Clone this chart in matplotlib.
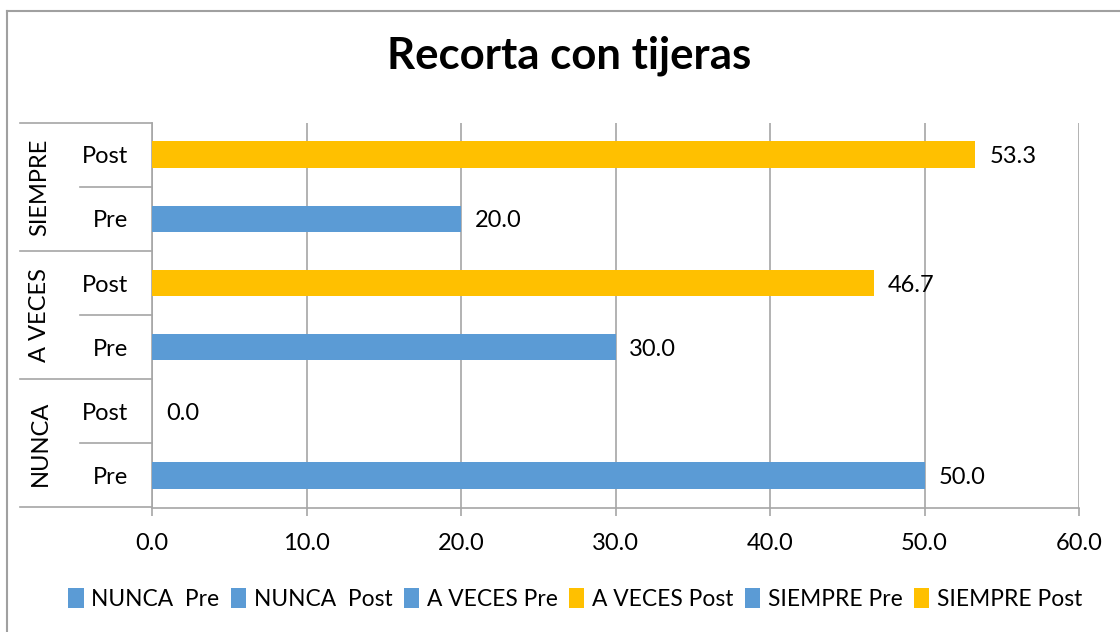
import matplotlib
matplotlib.use("Agg")
import matplotlib.pyplot as plt
from matplotlib.lines import Line2D

plt.rcParams['font.family'] = ['Lato', 'DejaVu Sans']

# ---- data ----
title = "Recorta con tijeras"
groups = ["NUNCA", "A VECES", "SIEMPRE"]
phases = ["Pre", "Post"]
series_labels = ["NUNCA  Pre", "NUNCA  Post", "A VECES Pre",
                 "A VECES Post", "SIEMPRE Pre", "SIEMPRE Post"]
series_values = [50.0, 0.0, 30.0, 46.7, 20.0, 53.3]
x_ticks = [0, 10, 20, 30, 40, 50, 60]

# ---- style ----
BLUE = "#5B9BD5"
YELLOW = "#FFC000"
series_colors = [BLUE, BLUE, BLUE, YELLOW, BLUE, YELLOW]
GRID = "#A6A6A6"
FS = 17
LFS = 16.4

W, H = 1120, 632
fig = plt.figure(figsize=(W / 100, H / 100), dpi=100)
ax_l, ax_r, ax_t, ax_b = 152, 1079, 122.7, 507.5
ax = fig.add_axes([ax_l / W, 1 - ax_b / H, (ax_r - ax_l) / W, (ax_b - ax_t) / H])

n_rows = len(series_values)
for i, (lab, val, col) in enumerate(zip(series_labels, series_values, series_colors)):
    ax.barh(i, val, height=0.415, color=col, label=lab, zorder=3)
    ax.annotate(f"{val:.1f}", (val, i), xytext=(10, 0), textcoords="offset points",
                ha="left", va="center_baseline", fontsize=FS, color="black")

ax.set_xlim(x_ticks[0], x_ticks[-1])
ax.set_ylim(-0.5, n_rows - 0.5)
ax.set_xticks(x_ticks)
ax.set_xticklabels([f"{t:.1f}" for t in x_ticks], fontsize=FS)
ax.set_yticks([])
ax.grid(axis="x", color=GRID, linewidth=1.2, zorder=0)
ax.tick_params(axis="x", length=5.5, width=1.2, color=GRID, pad=12.5)
for s in ["top", "right"]:
    ax.spines[s].set_visible(False)
for s in ["left", "bottom"]:
    ax.spines[s].set_color(GRID)
    ax.spines[s].set_linewidth(1.2)

# ---- multi-level category axis ----
axw = ax_r - ax_l
x_outer = (20 - ax_l) / axw
x_inner = (80 - ax_l) / axw
x_sub = (128 - ax_l) / axw
x_grp = (40 - ax_l) / axw
tr = ax.get_yaxis_transform()
for k in range(len(groups) + 1):
    y = -0.5 + 2 * k
    ax.plot([x_outer, 0], [y, y], transform=tr, color=GRID, lw=1.2, clip_on=False)
for k in range(len(groups)):
    y = 0.5 + 2 * k
    ax.plot([x_inner, 0], [y, y], transform=tr, color=GRID, lw=1.2, clip_on=False)
for gi, g in enumerate(groups):
    ax.text(x_grp, 2 * gi + 0.5, g, transform=tr, rotation=90, ha="center",
            va="center", fontsize=FS)
    for pi, p in enumerate(phases):
        ax.text(x_sub, 2 * gi + pi, p, transform=tr, ha="right",
                va="center_baseline", fontsize=FS)

# ---- title ----
fig.text(569 / W, 1 - 69 / H, title, ha="center", va="baseline",
         fontsize=31.5, fontweight="bold")

# ---- legend ----
fig.legend(loc="center", bbox_to_anchor=(575 / W, 1 - 599 / H), ncol=6,
           frameon=False, fontsize=LFS, handlelength=0.68, handleheight=0.95,
           handletextpad=0.33, columnspacing=0.5, borderaxespad=0)

# ---- chart border ----
fig.add_artist(Line2D([6.5 / W, 6.5 / W], [0, 1 - 11 / H], color="#A0A0A0", lw=1.5))
fig.add_artist(Line2D([6.5 / W, 1], [1 - 11 / H, 1 - 11 / H], color="#A0A0A0", lw=1.5))

fig.savefig("out.png", dpi=100)
